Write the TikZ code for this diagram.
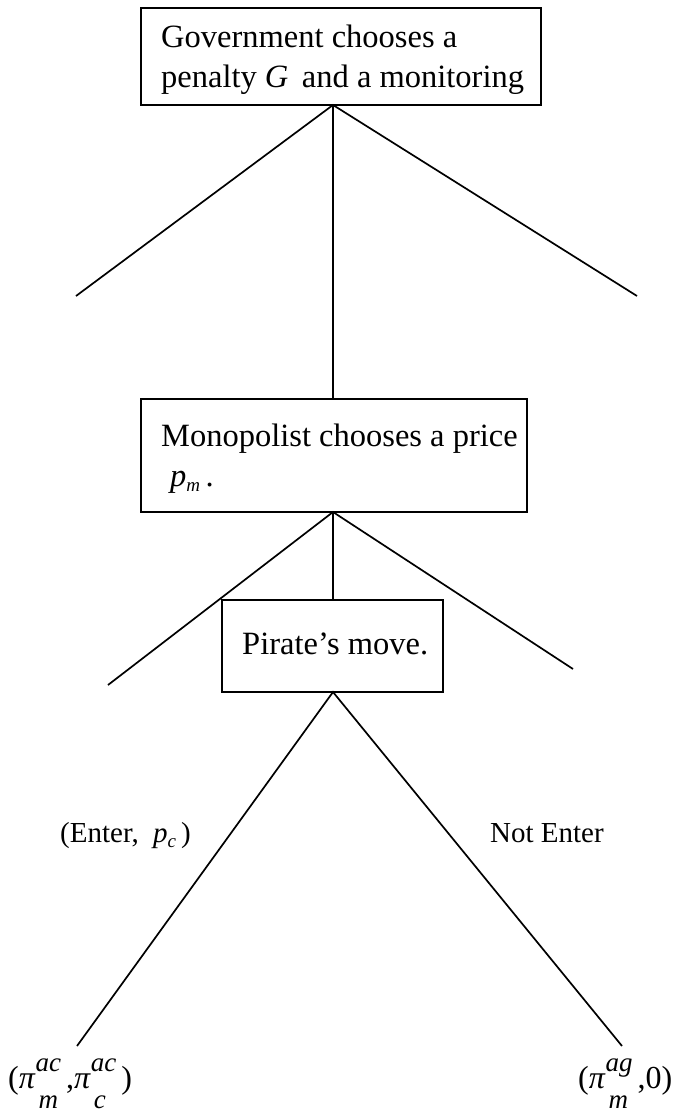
\documentclass[tikz,border=0pt]{standalone}
\usepackage{fontspec}
\setmainfont{Liberation Serif}
\usetikzlibrary{calc}

\newlength\sswd
% pi with a high superscript and a low subscript, Word style
\newcommand{\piss}[2]{\textit{π}{\fontsize{27}{27}\selectfont\itshape
  \setbox0\hbox{#1}\setbox2\hbox{#2}%
  \ifdim\wd0>\wd2 \sswd=\wd0 \else \sswd=\wd2 \fi
  \rlap{\raisebox{17pt}{\box0}}\rlap{\hspace{3pt}\raisebox{-20pt}{\box2}}\hspace{\sswd}\hspace{5pt}}}
\newcommand{\psub}[1]{\textit{p}\raisebox{-5pt}{\fontsize{19}{19}\selectfont\itshape #1}}

\begin{document}
\begin{tikzpicture}[x=1pt, y=-1pt,
  stage/.style={draw, line width=1.7pt, inner sep=0pt},
  say/.style={font=\fontsize{32.5}{40}\selectfont, inner sep=0pt, align=left, anchor=base west},
  move/.style={font=\fontsize{29}{36}\selectfont, inner sep=0pt, anchor=base west},
  pay/.style={font=\fontsize{32}{36}\selectfont, inner sep=0pt, anchor=base west},
  branch/.style={line width=1.7pt}]
\useasboundingbox (0,0) rectangle (685,1113);
% decision boxes
\node[stage, minimum width=400pt, minimum height=97pt] (gov) at (341,56.5) {};
\node[stage, minimum width=386pt, minimum height=113pt] (mono) at (334,455.5) {};
\node[stage, minimum width=221pt, minimum height=92pt] (pirate) at (332.5,646) {};
\node[say] (govtxt) at (161,88) {Government chooses a\\penalty \textit{G}\, and a monitoring};
\node[say] (monotxt) at (161,486) {Monopolist chooses a price\\\hspace{9pt}\psub{m}\,.};
\node[say] (piratetxt) at (242,654) {Pirate’s move.};
% apexes and leaves
\coordinate (g0) at (333,105);
\coordinate (g1) at (76,296);
\coordinate (g2) at (637,296);
\coordinate (m0) at (333,512);
\coordinate (m1) at (108,685);
\coordinate (m2) at (573,669);
\coordinate (p0) at (333,692);
\coordinate (p1) at (77,1046);
\coordinate (p2) at (622,1046);
\draw[branch] (g1) -- (g0) -- (g2);
\draw[branch] (g0) -- (g0 |- mono.north);
\draw[branch] (m1) -- (m0) -- (m2);
\draw[branch] (m0) -- (m0 |- pirate.north);
\draw[branch] (p1) -- (p0) -- (p2);
% moves and payoffs
\node[move] (enter) at (60,842) {(Enter,\ \ \psub{c}\,)};
\node[move] (notenter) at (490,842) {Not Enter};
\node[pay] (payac) at (8,1088) {(\piss{ac}{m},\piss{ac}{c})};
\node[pay] (payag) at (578,1088) {(\piss{ag}{m},0)};
\end{tikzpicture}
\end{document}
